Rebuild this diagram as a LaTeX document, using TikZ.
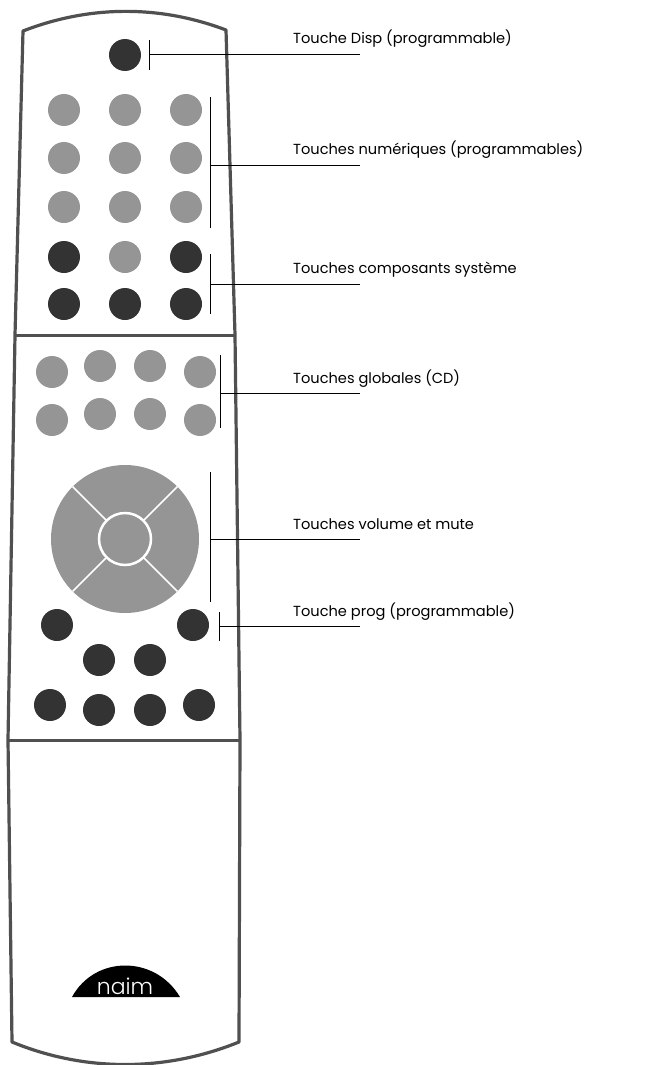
\documentclass[tikz,border=0pt]{standalone}
\usepackage{fontspec}
\setmainfont{Poppins}
\definecolor{btngrey}{HTML}{959595}
\definecolor{btndark}{HTML}{333333}
\definecolor{bodyline}{HTML}{505050}
\begin{document}
\begin{tikzpicture}[x=1pt,y=-1pt,
  grey/.style={circle,fill=btngrey,minimum size=32pt,inner sep=0pt},
  dark/.style={circle,fill=btndark,minimum size=32pt,inner sep=0pt},
  lead/.style={draw=black,line width=1pt},
  lbl/.style={anchor=base west,font=\fontsize{14.6}{16}\selectfont,inner sep=0pt}]
\useasboundingbox (0,0) rectangle (651,1065);
% body
\draw[bodyline,line width=3.2pt,line join=round]
  (23,31) .. controls (90,5) and (160,5) .. (226,30)
  -- (235,335) -- (240,740) -- (239,1042)
  .. controls (165,1072) and (85,1072) .. (12,1042)
  -- (8,740) -- (15,335) -- cycle;
\draw[bodyline,line width=3pt] (15,335) -- (235,335);
\draw[bodyline,line width=3pt] (8,740) -- (240,740);
% top buttons
\node[dark] (disp) at (125,55) {};
\foreach \x/\c in {64/a,125/b,186/c}{
  \node[grey] (n1\c) at (\x,110) {};
  \node[grey] (n2\c) at (\x,158) {};
  \node[grey] (n3\c) at (\x,207) {};
  \node[dark] (s2\c) at (\x,304) {};
}
\node[dark] (s1a) at (64,257) {};
\node[grey] (s1b) at (125,257) {};
\node[dark] (s1c) at (186,257) {};
% globals
\node[grey] (g1) at (52,372) {};
\node[grey] (g2) at (100,366) {};
\node[grey] (g3) at (150,366) {};
\node[grey] (g4) at (200,372) {};
\node[grey] (g5) at (52,420) {};
\node[grey] (g6) at (100,414) {};
\node[grey] (g7) at (150,414) {};
\node[grey] (g8) at (200,420) {};
% dial
\fill[btngrey] (125,539) circle (74);
\draw[white,line width=1.5pt] (125,539) ++(45:25) -- ++(45:49);
\draw[white,line width=1.5pt] (125,539) ++(135:25) -- ++(135:49);
\draw[white,line width=1.5pt] (125,539) ++(225:25) -- ++(225:49);
\draw[white,line width=1.5pt] (125,539) ++(315:25) -- ++(315:49);
\node[circle,fill=btngrey,draw=white,line width=2.5pt,minimum size=52pt,inner sep=0pt] (dial) at (125,539) {};
% lower buttons
\node[dark] (p1) at (57,625) {};
\node[dark] (prog) at (193,625) {};
\node[dark] (p3) at (99,660) {};
\node[dark] (p4) at (150,660) {};
\node[dark] (p5) at (50,705) {};
\node[dark] (p6) at (99,710) {};
\node[dark] (p7) at (150,710) {};
\node[dark] (p8) at (199,705) {};
% logo
\fill[black] (72,997) .. controls (95,955) and (155,955) .. (180,997) -- cycle;
\node[white,font=\fontsize{22}{22}\fontspec{Poppins Light}\selectfont,anchor=base,inner sep=0pt] (logo) at (125,994) {naim};
% leaders
\draw[lead] (149,40) -- (149,70);
\coordinate (c1) at (149,55); \coordinate (e1) at (360,55);
\draw[lead] (c1) -- (e1);
\node[lbl] (t1) at (293,44) {Touche Disp (programmable)};
\draw[lead] (210,97) -- (210,228);
\coordinate (c2) at (210,165); \coordinate (e2) at (360,165);
\draw[lead] (c2) -- (e2);
\node[lbl] (t2) at (293,154) {Touches numériques (programmables)};
\draw[lead] (210,254) -- (210,314);
\coordinate (c3) at (210,284); \coordinate (e3) at (360,284);
\draw[lead] (c3) -- (e3);
\node[lbl] (t3) at (293,273) {Touches composants système};
\draw[lead] (220,355) -- (220,428);
\coordinate (c4) at (220,393); \coordinate (e4) at (360,393);
\draw[lead] (c4) -- (e4);
\node[lbl] (t4) at (293,383) {Touches globales (CD)};
\draw[lead] (210,472) -- (210,602);
\coordinate (c5) at (210,539); \coordinate (e5) at (360,539);
\draw[lead] (c5) -- (e5);
\node[lbl] (t5) at (293,529) {Touches volume et mute};
\draw[lead] (219,612) -- (219,641);
\coordinate (c6) at (219,626); \coordinate (e6) at (360,626);
\draw[lead] (c6) -- (e6);
\node[lbl] (t6) at (293,616) {Touche prog (programmable)};
\end{tikzpicture}
\end{document}
